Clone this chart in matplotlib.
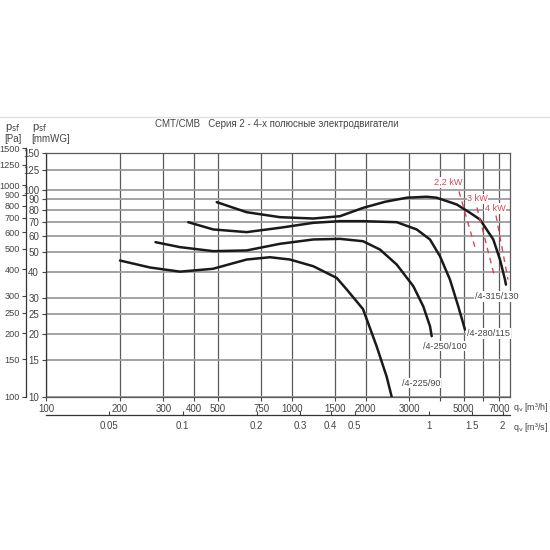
"""Fan curves CMT/CMB, series 2, 4-pole motors."""
import matplotlib
matplotlib.use("Agg")
import matplotlib.pyplot as plt
from matplotlib.lines import Line2D
from matplotlib.ticker import FixedLocator, FixedFormatter, NullLocator

INK, GRID_V, GRID_H, TXT, RED = "#1a1a1a", "#5a5a5a", "#9c9c9c", "#444444", "#d9475a"
plt.rcParams.update({"font.family": ["Liberation Sans", "DejaVu Sans"],
                     "font.size": 7, "axes.linewidth": 0.9})

# axis ticks
q_ticks = [100, 200, 300, 400, 500, 750, 1000, 1500, 2000, 3000, 4000, 5000, 6000, 7000]
q_labels = ["100", "200", "300", "400", "500", "750", "1000", "1500", "2000", "3000", "",
            "5000", "", "7000"]
qs_ticks = [0.05, 0.1, 0.2, 0.3, 0.4, 0.5, 1, 1.5, 2]
qs_labels = ["0.05", "0.1", "0.2", "0.3", "0.4", "0.5", "1", "1.5", "2"]
mm_ticks = [10, 15, 20, 25, 30, 40, 50, 60, 70, 80, 90, 100, 125, 150]
pa_ticks = [100, 150, 200, 250, 300, 400, 500, 600, 700, 800, 900, 1000, 1250, 1500]

# fan curves: q [m3/h], p [mmWG]
q_225 = [200, 265, 351, 478, 655, 815, 983, 1223, 1523, 1672, 1949, 2215, 2432, 2549]
p_225 = [45.5, 42.1, 40.2, 41.5, 46.0, 47.2, 46.0, 42.7, 37.5, 33.0, 26.5, 17.5, 12.5, 10.0]
q_250 = [279, 351, 479, 655, 895, 1223, 1571, 1949, 2285, 2673, 3122, 3428, 3650, 3709]
p_250 = [55.8, 52.8, 50.5, 50.9, 54.8, 57.5, 57.9, 56.4, 51.4, 43.5, 34.2, 27.3, 21.9, 19.6]
q_280 = [379, 479, 655, 895, 1223, 1571, 1949, 2673, 3222, 3650, 4009, 4401, 4758, 5065]
p_280 = [69.7, 64.3, 62.4, 65.5, 69.2, 70.5, 70.5, 69.7, 64.3, 57.5, 47.7, 36.8, 27.3, 21.1]
q_315 = [495, 655, 895, 1223, 1571, 1954, 2400, 2935, 3539, 3886, 4688, 5309, 5831, 6604,
         7031, 7369, 7436]
p_315 = [87.1, 77.9, 73.7, 72.6, 74.5, 81.8, 87.5, 91.5, 92.5, 91.5, 84.9, 77.4, 71.8, 57.5,
         46.0, 36.8, 34.8]
names = ["/4-225/90", "/4-250/100", "/4-280/115", "/4-315/130"]
name_q = [2808, 3419, 5164, 5565]
name_p = [11.6, 17.5, 20.2, 30.5]

# motor power limits
kw_names = ["2,2 kW", "3 kW", "4 kW"]
kw_q = [[4790, 5564], [5670, 6648], [6774, 7580]]
kw_p = [[98.2, 52.6], [82.1, 38.9], [75.1, 36.8]]
kw_label_q = [4318, 5695, 6710]
kw_label_p = [108.4, 90.5, 81.2]

fig = plt.figure(figsize=(5.5, 5.5), dpi=100)
L, B, W, H = 46 / 550, 1 - 396.7 / 550, 464 / 550, 243.4 / 550
ax = fig.add_axes([L, B, W, H])
ax.set_xscale("log"); ax.set_yscale("log")
ax.set_xlim(100, 7724); ax.set_ylim(10, 150)

for q in q_ticks:
    ax.axvline(q, color=GRID_V, lw=0.9, zorder=1)
for p in mm_ticks:
    ax.axhline(p, color=GRID_H, lw=1.3, zorder=1)

for q, p in [(q_225, p_225), (q_250, p_250), (q_280, p_280), (q_315, p_315)]:
    ax.plot(q, p, color=INK, lw=1.8, solid_joinstyle="round", solid_capstyle="round", zorder=3)
for n, q, p in zip(names, name_q, name_p):
    ax.text(q, p, n, color=TXT, fontsize=6.6, ha="left", va="center", zorder=4,
            bbox=dict(fc="white", ec="none", pad=0.4))

for q, p in zip(kw_q, kw_p):
    ax.plot(q, p, color=RED, lw=1.0, dashes=(4, 3.5), zorder=4)
for n, q, p in zip(kw_names, kw_label_q, kw_label_p):
    ax.text(q, p, n, color=RED, fontsize=6.6, ha="center", va="center", zorder=5,
            bbox=dict(fc="white", ec="none", pad=0.4))

ax.xaxis.set_major_locator(FixedLocator(q_ticks))
ax.xaxis.set_major_formatter(FixedFormatter(q_labels))
ax.xaxis.set_minor_locator(NullLocator())
ax.yaxis.set_major_locator(FixedLocator(mm_ticks))
ax.yaxis.set_major_formatter(FixedFormatter([str(v) for v in mm_ticks]))
ax.yaxis.set_minor_locator(NullLocator())
ax.tick_params(length=3, width=0.8, pad=2, colors=TXT, labelsize=7)
for s in ax.spines.values():
    s.set_color(GRID_V)
ax.spines["left"].set_color("#333333")

# second flow axis in m3/s
sec = ax.secondary_xaxis(-(415 - 396.7) / 243.4, functions=(lambda x: x / 3600, lambda x: x * 3600))
sec.xaxis.set_major_locator(FixedLocator(qs_ticks))
sec.xaxis.set_major_formatter(FixedFormatter(qs_labels))
sec.xaxis.set_minor_locator(NullLocator())
sec.tick_params(direction="in", length=3, width=0.8, pad=4, colors=TXT, labelsize=7)
sec.spines["bottom"].set_color("#333333")

# pressure axis in Pa
pa = fig.add_axes([L, B, W, (396.7 - 148) / 550], facecolor="none")
pa.set_yscale("log"); pa.set_ylim(100, 1500)
pa.xaxis.set_visible(False)
for k in ["top", "right", "bottom"]:
    pa.spines[k].set_visible(False)
pa.spines["left"].set_position(("outward", 14.4))
pa.spines["left"].set_color("#333333")
pa.yaxis.set_major_locator(FixedLocator(pa_ticks))
pa.yaxis.set_major_formatter(FixedFormatter([str(v) for v in pa_ticks]))
pa.yaxis.set_minor_locator(NullLocator())
pa.tick_params(length=3, width=0.8, pad=1.2, colors=TXT, labelsize=6.6)

fig.text(155 / 550, 1 - 124 / 550, "CMT/CMB   Серия 2 - 4-х полюсные электродвигатели",
         color=TXT, fontsize=7, va="center")
fig.text(5 / 550, 1 - 128 / 550, r"p$_\mathrm{sf}$", color=TXT, fontsize=8, va="center")
fig.text(4 / 550, 1 - 139 / 550, "[Pa]", color=TXT, fontsize=7, va="center")
fig.text(32 / 550, 1 - 128 / 550, r"p$_\mathrm{sf}$", color=TXT, fontsize=8, va="center")
fig.text(31 / 550, 1 - 139 / 550, "[mmWG]", color=TXT, fontsize=7, va="center")
fig.text(513 / 550, 1 - 407 / 550, r"q$_\mathrm{v}$ [m³/h]", color=TXT, fontsize=6.4, va="center")
fig.text(513 / 550, 1 - 427 / 550, r"q$_\mathrm{v}$ [m³/s]", color=TXT, fontsize=6.4, va="center")
fig.add_artist(Line2D([0, 1], [1 - 117 / 550] * 2, color="#e2e2e2", lw=1.0))

fig.savefig("out.png", dpi=100, facecolor="white")
